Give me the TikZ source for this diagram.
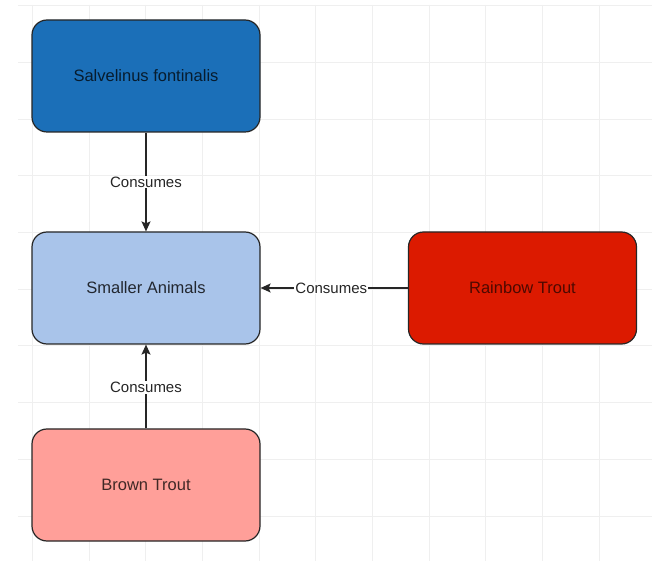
\documentclass[tikz,border=0pt]{standalone}
\usepackage{fontspec}
\setmainfont{Liberation Sans}
\usepackage{tikz}
\usetikzlibrary{arrows.meta, positioning}
\definecolor{darkblue}{HTML}{1B6FB8}
\definecolor{lightblue}{HTML}{A9C4EA}
\definecolor{trout}{HTML}{DC1A00}
\definecolor{salmon}{HTML}{FF9F99}
\definecolor{gridgray}{HTML}{EFEFEF}

\begin{document}
\begin{tikzpicture}[x=1pt, y=-1pt,
  animal/.style={draw=black!85, line width=1.2pt, rounded corners=15pt, minimum width=228pt, minimum height=112pt, inner sep=0pt, font=\fontsize{16.5}{20}\selectfont, text=black!80},
  eats/.style={draw=black!85, line width=1.2pt, -{Stealth[length=10pt, width=9pt, inset=2pt]}},
  eatslabel/.style={fill=white, inner sep=1pt, font=\fontsize{15}{18}\selectfont, text=black!85}]
\useasboundingbox (0,0) rectangle (654,561);
\fill[white] (0,0) rectangle (654,561);

% background grid
\foreach \gx in {0,...,10}
  \draw[gridgray, line width=0.9pt] (32.3+56.7*\gx, 5) -- (32.3+56.7*\gx, 561);
\foreach \gy in {0,...,9}
  \draw[gridgray, line width=0.9pt] (18, 5.7+56.7*\gy) -- (652, 5.7+56.7*\gy);

\node[animal, fill=darkblue, text=black!75!darkblue] (salvelinus) at (146, 76) {Salvelinus fontinalis};
\node[animal, fill=lightblue, text=black!80!lightblue] (smaller) at (146, 288) {Smaller Animals};
\node[animal, fill=trout, text=black!65!trout] (rainbow) at (522.5, 288) {Rainbow Trout};
\node[animal, fill=salmon, text=black!75!salmon] (brown) at (146, 485) {Brown Trout};

\draw[eats] (salvelinus) -- node[eatslabel] {Consumes} (smaller);
\draw[eats] (rainbow) -- node[eatslabel, pos=0.52] {Consumes} (smaller);
\draw[eats] (brown) -- node[eatslabel, pos=0.49] {Consumes} (smaller);
\end{tikzpicture}
\end{document}
